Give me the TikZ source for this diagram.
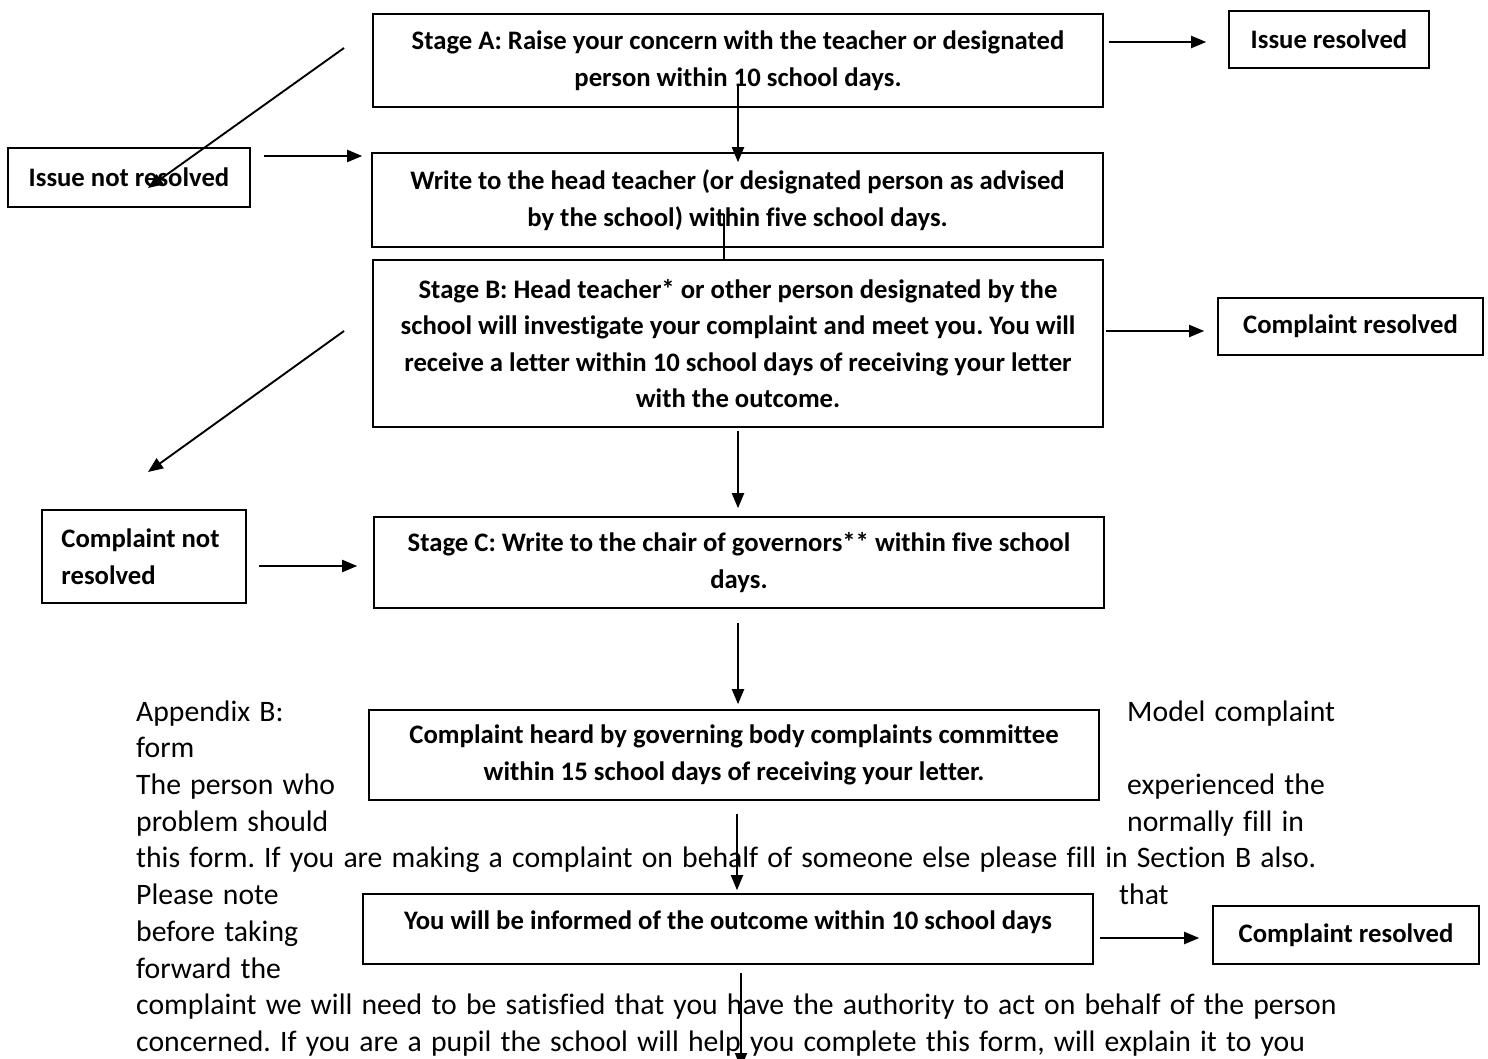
\documentclass[tikz,border=0pt]{standalone}
\usepackage{fontspec}
\setmainfont{Carlito}[Ligatures={NoCommon}]
\usetikzlibrary{arrows.meta,calc}
\frenchspacing
\newcommand{\bgtextfont}{\fontsize{29.7}{36.7}\selectfont\spaceskip=9.2pt\relax}
\newcommand{\boxtextfont}{\bfseries\fontsize{26.7}{36.5}\selectfont}
\tikzset{
  box/.style={draw, line width=1.6pt, inner sep=0pt, align=center, font=\boxtextfont},
  boxtext/.style={inner sep=0pt, align=center, font=\boxtextfont},
  arr/.style={line width=1.9pt, -{Triangle[length=15pt,width=12pt]}},
  conn/.style={line width=1.9pt},
  bg/.style={anchor=base west, inner sep=0pt, font=\bgtextfont},
}
\begin{document}
\begin{tikzpicture}[x=1pt,y=-1pt]
\clip (0,0) rectangle (1488,1059);
\fill[white] (0,0) rectangle (1488,1059);

% background text
\node[bg] (t1) at (136,721) {Appendix B:};
\node[bg] (t2) at (1127,721) {Model complaint};
\node[bg] (t3) at (136,757.7) {form};
\node[bg] (t4) at (136,794.4) {The person who};
\node[bg] (t5) at (1127,794.4) {experienced the};
\node[bg] (t6) at (136,831) {problem should};
\node[bg] (t7) at (1127,831) {normally fill in};
\node[bg] (t8) at (136,867.8) {this form. If you are making a complaint on behalf of someone else please fill in Section B also.};
\node[bg] (t9) at (136,904.5) {Please note};
\node[bg] (t10) at (1119,904.5) {that};
\node[bg] (t11) at (136,941) {before taking};
\node[bg] (t12) at (136,978) {forward the};
\node[bg] (t13) at (136,1014.6) {complaint we will need to be satisfied that you have the authority to act on behalf of the person};
\node[bg] (t14) at (136,1051.3) {concerned. If you are a pupil the school will help you complete this form, will explain it to you};

% boxes
\node[box, minimum width=730pt, minimum height=93pt] (stA) at (738,60.5)
  {Stage A: Raise your concern with the teacher or designated\\person within 10 school days.};
\node[box, minimum width=200pt, minimum height=57pt] (ir) at (1329,39.5) {Issue resolved};
\node[box, minimum width=242pt, minimum height=59pt] (inr) at (129,177.5) {Issue not resolved};
\node[box, minimum width=731pt, minimum height=94pt] (wr) at (737.5,200)
  {Write to the head teacher (or designated person as advised\\by the school) within five school days.};
\node[box, minimum width=730pt, minimum height=167pt] (stB) at (738,343.5)
  {Stage B: Head teacher* or other person designated by the\\school will investigate your complaint and meet you. You will\\receive a letter within 10 school days of receiving your letter\\with the outcome.};
\node[box, minimum width=265pt, minimum height=57pt] (cr1) at (1350.5,326.5) {Complaint resolved};
\node[box, minimum width=204pt, minimum height=93pt] (cnr) at (144,556.5) {};
\node[boxtext, align=left, anchor=west] (cnrt) at ([xshift=20pt]cnr.west)
  {Complaint not\\resolved};
\node[box, minimum width=730pt, minimum height=91pt] (stC) at (739,562.5)
  {Stage C: Write to the chair of governors** within five school\\days.};
\node[box, minimum width=730pt, minimum height=90pt] (ch) at (734,755)
  {Complaint heard by governing body complaints committee\\within 15 school days of receiving your letter.};
\node[box, minimum width=730pt, minimum height=70pt] (inf) at (728,929) {};
\node[boxtext] (inft) at ([yshift=7pt]inf.center) {You will be informed of the outcome within 10 school days};
\node[box, minimum width=266pt, minimum height=58pt] (cr2) at (1346,935) {Complaint resolved};

% connectors
\draw[arr] ([shift={(5pt,18.5pt)}]stA.east) -- ([shift={(-22pt,-2.5pt)}]ir.west);
\coordinate (s2) at ([yshift=22pt]stA.south);
\draw[arr] (s2) -- ($(s2 |- wr.north)+(0,-10pt)$);
\coordinate (d1) at (344,48);
\draw[arr] (d1) -- ([shift={(19pt,-10.5pt)}]inr.center);
\draw[arr] ([shift={(13pt,21.5pt)}]inr.east) -- ([shift={(-9pt,44pt)}]wr.west);
\coordinate (s5) at ([shift={(-13.5pt,34pt)}]wr.south);
\draw[conn] (s5) -- (s5 |- stB.north);
\draw[arr] ([shift={(2pt,12.5pt)}]stB.east) -- ([shift={(-13pt,-4.5pt)}]cr1.west);
\coordinate (d2) at (344,331);
\coordinate (t2tip) at (148,472);
\draw[arr] (d2) -- (t2tip);
\coordinate (s8) at ([yshift=-3pt]stB.south);
\draw[arr] (s8) -- ($(s8 |- stC.north)+(0,8pt)$);
\draw[arr] ([shift={(12pt,-9.5pt)}]cnr.east) -- ([shift={(-16pt,-3.5pt)}]stC.west);
\coordinate (s10) at ([shift={(-1pt,-14pt)}]stC.south);
\draw[arr] (s10) -- ($(s10 |- ch.north)+(0,5pt)$);
\coordinate (s11) at ([shift={(3pt,-13pt)}]ch.south);
\draw[arr] (s11) -- ($(s11 |- inf.north)+(0,3pt)$);
\draw[arr] ([shift={(6pt,-9pt)}]inf.east) -- ([shift={(-13pt,-3pt)}]cr2.west);
\coordinate (s13) at ([shift={(13pt,-8pt)}]inf.south);
\coordinate (e13) at (741,1068);
\draw[arr] (s13) -- (e13);
\end{tikzpicture}
\end{document}
